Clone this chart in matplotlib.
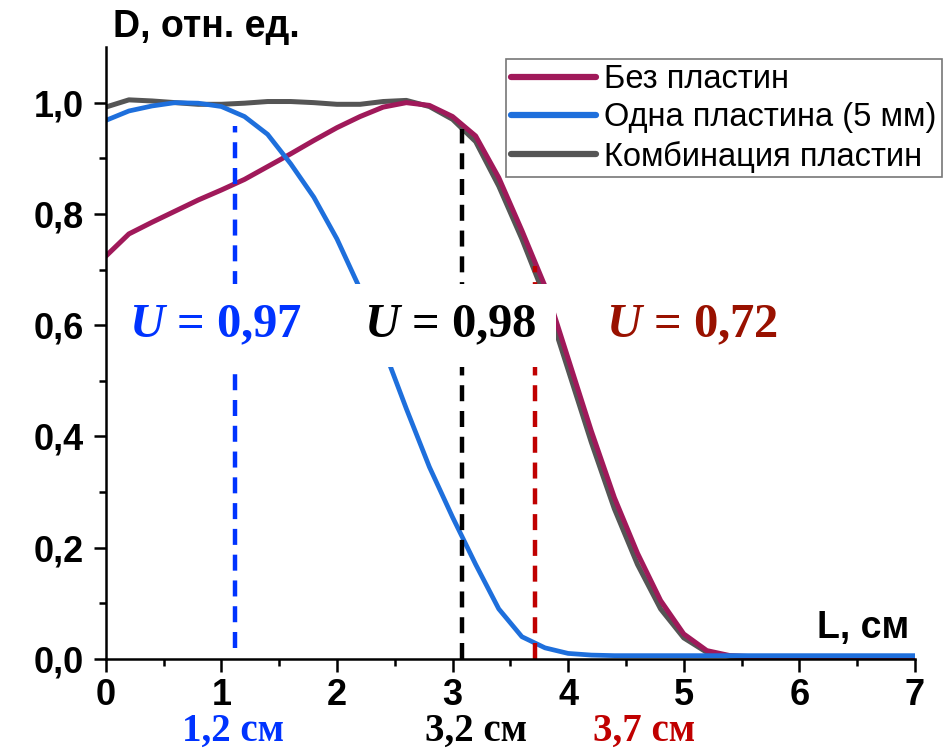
import numpy as np
import matplotlib
matplotlib.use("Agg")
import matplotlib.pyplot as plt

plt.rcParams['font.family'] = ['Liberation Sans', 'DejaVu Sans']
plt.rcParams['mathtext.fontset'] = 'custom'
plt.rcParams['mathtext.it'] = 'Liberation Serif:italic:bold'
plt.rcParams['mathtext.rm'] = 'Liberation Serif:bold'

# distance, cm (step 0.2)
L = np.round(np.arange(0, 7.01, 0.2), 1)

d_none = [0.724, 0.764, 0.785, 0.805, 0.825, 0.843, 0.862, 0.885, 0.908, 0.932,
          0.955, 0.975, 0.992, 1.0, 0.995, 0.975, 0.94, 0.865, 0.77, 0.67,
          0.54, 0.41, 0.29, 0.19, 0.105, 0.045, 0.015, 0.006, 0.004, 0.004,
          0.004, 0.004, 0.004, 0.004, 0.004, 0.004]
d_one = [0.968, 0.985, 0.994, 1.0, 0.999, 0.993, 0.975, 0.943, 0.89, 0.83,
         0.755, 0.665, 0.56, 0.45, 0.345, 0.255, 0.17, 0.09, 0.04, 0.02,
         0.01, 0.007, 0.006, 0.006, 0.006, 0.006, 0.006, 0.006, 0.006, 0.006,
         0.006, 0.006, 0.006, 0.006, 0.006, 0.006]
d_comb = [0.992, 1.005, 1.003, 1.0, 0.997, 0.997, 0.999, 1.002, 1.002, 1.0,
          0.997, 0.997, 1.002, 1.004, 0.993, 0.97, 0.93, 0.85, 0.755, 0.65,
          0.52, 0.39, 0.27, 0.17, 0.09, 0.038, 0.012, 0.005, 0.004, 0.004,
          0.004, 0.004, 0.004, 0.004, 0.004, 0.004]

labels = ['Без пластин', 'Одна пластина (5 мм)', 'Комбинация пластин']

# uniformity markers
mark_x = [1.12, 3.08, 3.71]
mark_top = [0.958, 0.953, 0.706]
mark_bot = [0.02, 0.0, 0.0]
mark_col = ['#0033ff', '#000000', '#c00000']
u_text = ['$U$ = 0,97', '$U$ = 0,98', '$U$ = 0,72']
u_x = [0.95, 2.98, 5.07]
u_col = ['#0033ff', '#000000', '#991100']
len_text = ['1,2 см', '3,2 см', '3,7 см']
len_x = [1.1, 3.2, 4.66]
len_col = ['#0033ff', '#000000', '#c00000']

fig = plt.figure(figsize=(9.53, 7.52), dpi=100)
ax = fig.add_axes([0.111, 0.1237, 0.849, 0.8138])

c_none, c_one, c_comb = '#a0195a', '#1e6fdc', '#555555'
l3, = ax.plot(L, d_comb, color=c_comb, lw=3.6, label=labels[2])
l1, = ax.plot(L, d_none, color=c_none, lw=3.6, label=labels[0])
l2, = ax.plot(L, d_one, color=c_one, lw=3.4, label=labels[1])

for x, t, b, c in zip(mark_x, mark_top, mark_bot, mark_col):
    ax.plot([x, x], [b, t], color=c, lw=3.2, dashes=(3.6, 2.2), zorder=2.5)

for x, s, c in zip(u_x, u_text, u_col):
    ax.text(x, 0.6, s, color=c, fontsize=35, fontfamily='Liberation Serif',
            fontweight='bold', ha='center', va='center', zorder=4,
            bbox=dict(boxstyle='square,pad=0.4', fc='white', ec='none'))

for x, s, c in zip(len_x, len_text, len_col):
    ax.text(x, -0.148, s, color=c, fontsize=28, fontfamily='Liberation Serif',
            fontweight='bold', ha='center', va='baseline', clip_on=False)

ax.set_xlim(0, 7)
ax.set_ylim(0, 1.1)
ax.set_xticks(range(0, 8))
ax.set_xticks(np.arange(0.5, 7, 1), minor=True)
ax.set_yticks([0, 0.2, 0.4, 0.6, 0.8, 1.0])
ax.set_yticklabels(['0,0', '0,2', '0,4', '0,6', '0,8', '1,0'])
ax.set_yticks([0.1, 0.3, 0.5, 0.7, 0.9], minor=True)
for lab in ax.get_xticklabels() + ax.get_yticklabels():
    lab.set_fontweight('bold')
ax.tick_params(which='major', direction='out', length=9, width=1.8,
               labelsize=26, pad=5)
ax.tick_params(which='minor', direction='out', length=5, width=1.8)
ax.tick_params(axis='y', which='major', pad=7)
ax.spines['top'].set_visible(False)
ax.spines['right'].set_visible(False)
ax.spines['left'].set_linewidth(1.8)
ax.spines['bottom'].set_linewidth(1.8)

fig.text(0.119, 0.964, 'D, отн. ед.', fontsize=27, fontweight='bold',
         ha='left', va='center')
fig.text(0.954, 0.165, 'L, см', fontsize=27, fontweight='bold',
         ha='right', va='center')

leg = fig.legend(handles=[l1, l2, l3], loc='upper right',
                 bbox_to_anchor=(0.988, 0.921), bbox_transform=fig.transFigure,
                 fontsize=23.5, frameon=True, fancybox=False, borderaxespad=0,
                 handlelength=2.6, handletextpad=0.25, labelspacing=0.22,
                 borderpad=0.15)
leg.get_frame().set_edgecolor('#555555')
leg.get_frame().set_linewidth(1.2)
for h in leg.get_lines():
    h.set_linewidth(4.5)
    h.set_solid_capstyle('round')

fig.savefig('out.png', dpi=100)
